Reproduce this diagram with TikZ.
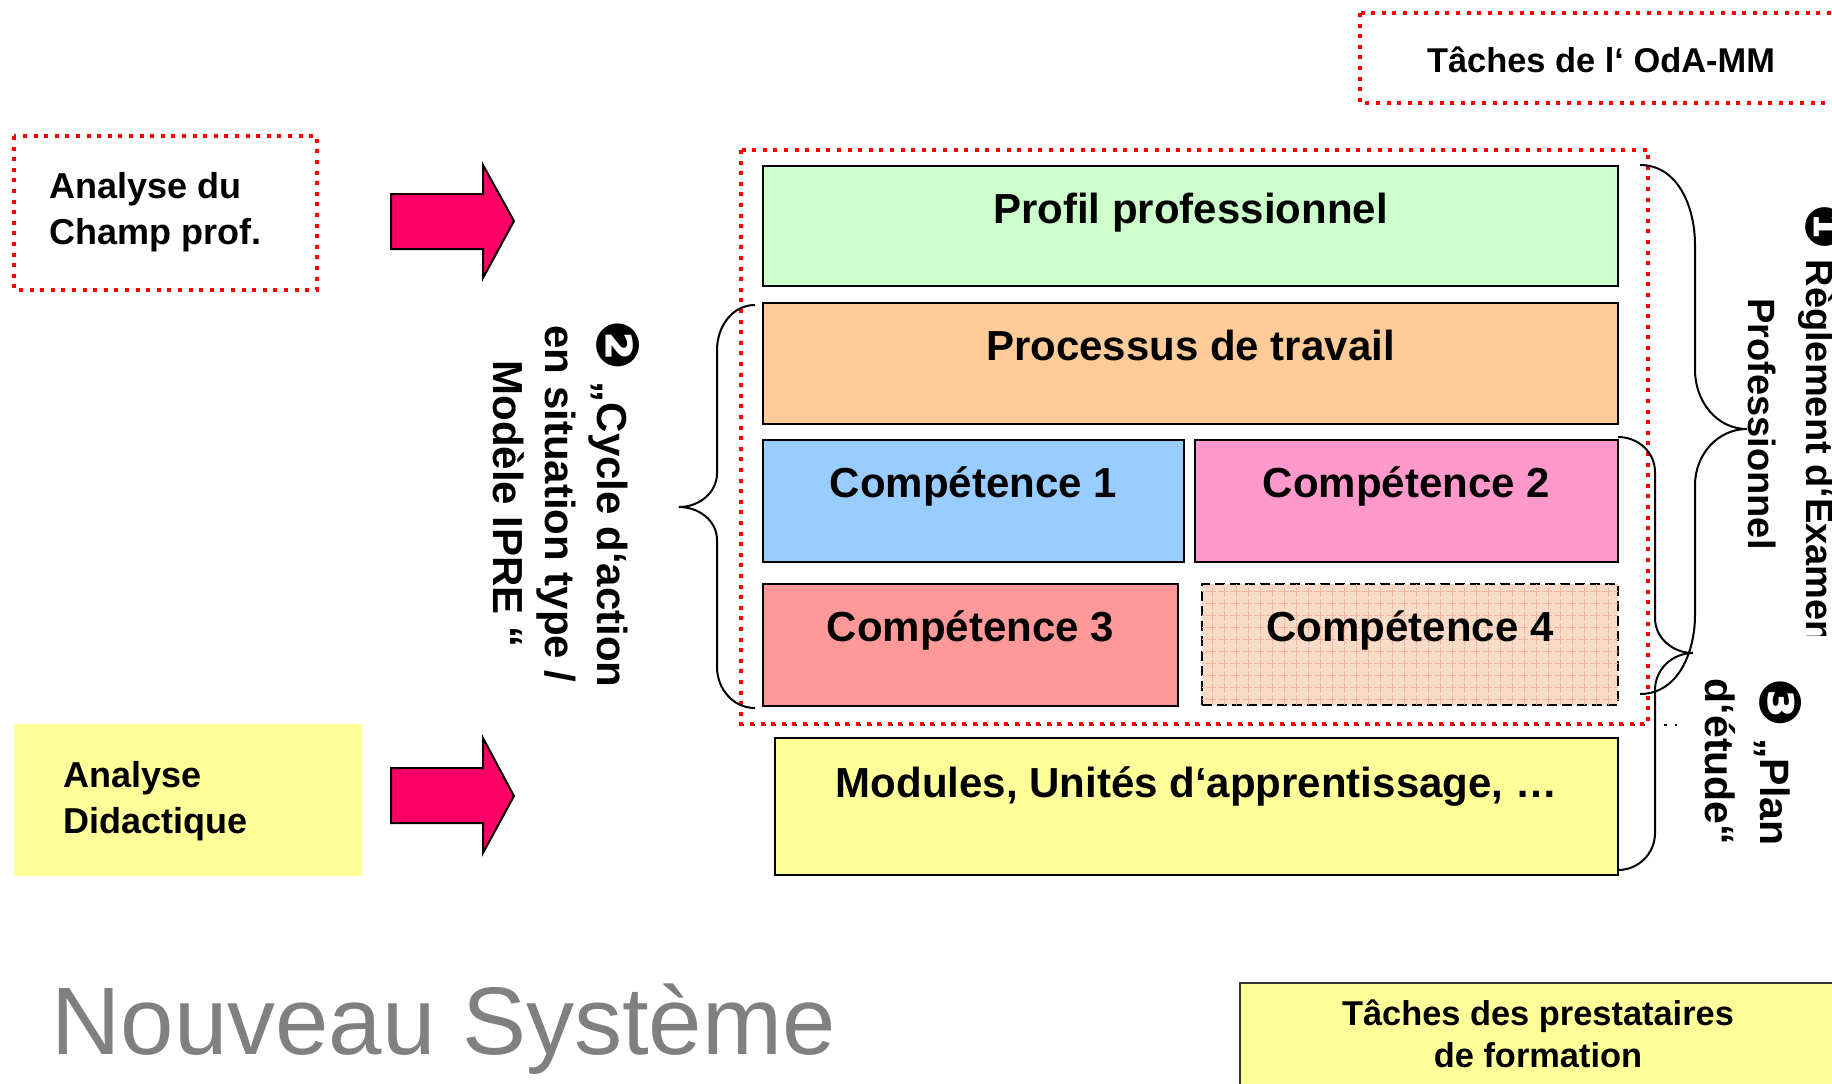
\documentclass[tikz,border=0pt]{standalone}
\usepackage{fontspec}
\setmainfont{Liberation Sans}
\newfontfamily\dingfont{DejaVu Sans}[Scale=1.4]
\usetikzlibrary{positioning,patterns.meta}

\definecolor{profilgreen}{HTML}{CCFFCC}
\definecolor{processorange}{HTML}{FFCC99}
\definecolor{compblue}{HTML}{99CCFF}
\definecolor{comppink}{HTML}{FF99CC}
\definecolor{compred}{HTML}{FF9999}
\definecolor{comppeach}{HTML}{F9DCC8}
\definecolor{hatchpeach}{HTML}{F2B49C}
\definecolor{paleyellow}{HTML}{FFFF99}
\definecolor{arrowpink}{HTML}{FF0066}
\definecolor{titlegray}{HTML}{808080}

\tikzset{
  reddots/.style={draw=red, line width=2pt, dash pattern=on 2pt off 3.3pt},
  layerbox/.style={draw=black, line width=1.25pt, inner sep=0pt},
  layertext/.style={anchor=base, font=\bfseries\fontsize{21}{25}\selectfont},
  sidetext/.style={anchor=base west, align=left, inner sep=0pt, font=\bfseries\fontsize{18}{23}\selectfont},
  bigarrow/.style={fill=arrowpink, draw=black, line width=1pt, line join=miter},
  bracket/.style={draw=black, line width=1pt}
}

\begin{document}
\begin{tikzpicture}[x=0.5pt,y=-0.5pt]
    \useasboundingbox (0,0) rectangle (1832,1083);
    \clip (0,0) rectangle (1832,1083);

    % tasks of the OdA
    \draw[reddots] (1360,13) rectangle (1850,103);
    \node[font=\bfseries\fontsize{17.2}{21}\selectfont, anchor=base] (oda) at (1601,72) {Tâches de l‘ OdA-MM};

    % left column (base = last line)
    \draw[reddots] (14,136) rectangle (317,290);
    \node[sidetext] (champ) at (49,244) {Analyse du\\Champ prof.};
    \fill[paleyellow] (14,724) rectangle (362,876);
    \node[sidetext] (didactique) at (63,833) {Analyse\\Didactique};

    \draw[bigarrow] (391,194) -- (483,194) -- (483,165) -- (514,221) -- (483,278) -- (483,249) -- (391,249) -- cycle;
    \draw[bigarrow] (391,768) -- (483,768) -- (483,738) -- (514,796) -- (483,853) -- (483,823) -- (391,823) -- cycle;

    % layers
    \node[layerbox, fill=profilgreen, minimum width=427.5pt, minimum height=60pt] (profil) at (1190.5,226) {};
    \node[layerbox, fill=processorange, minimum width=427.5pt, minimum height=60.5pt] (processus) at (1190.5,363.5) {};
    \node[layerbox, fill=compblue, minimum width=210.5pt, minimum height=61pt] (comp1) at (973.5,501) {};
    \node[layerbox, fill=comppink, minimum width=211.5pt, minimum height=61pt] (comp2) at (1406.5,501) {};
    \node[layerbox, fill=compred, minimum width=207.5pt, minimum height=61pt] (comp3) at (970.5,645) {};
    \node[layerbox, dash pattern=on 5pt off 2.5pt, fill=comppeach, minimum width=208pt, minimum height=60.5pt,
          postaction={pattern={Hatch[distance=6pt, line width=0.4pt]}, pattern color=hatchpeach}] (comp4) at (1410,644.5) {};
    \node[layerbox, fill=paleyellow, minimum width=421.5pt, minimum height=68.5pt] (modules) at (1196.5,806.5) {};

    \node[layertext] (profiltext) at ([yshift=-29.5pt]profil.north) {Profil professionnel};
    \node[layertext] (processustext) at ([yshift=-29.5pt]processus.north) {Processus de travail};
    \node[layertext] (comp1text) at ([yshift=-29.5pt]comp1.north) {Compétence 1};
    \node[layertext] (comp2text) at ([yshift=-29.5pt]comp2.north) {Compétence 2};
    \node[layertext] (comp3text) at ([yshift=-29.5pt]comp3.north) {Compétence 3};
    \node[layertext] (comp4text) at ([yshift=-29.5pt]comp4.north) {Compétence 4};
    \node[layertext] (modulestext) at ([yshift=-30.5pt]modules.north) {Modules, Unités d‘apprentissage, …};

    % OdA frame and separator
    \draw[black, line width=1.2pt, dash pattern=on 1.2pt off 4.1pt] (742,725) -- (1677,725);
    \draw[reddots] (741,150) rectangle (1648,724);

    % braces
    \draw[bracket] (755,305) to[out=180,in=90] (717,350) -- (717,473) to[out=-90,in=0] (679,507)
        to[out=0,in=90] (717,540) -- (717,667) to[out=-90,in=180] (755,708);
    \draw[bracket] (1640,165) to[out=0,in=90] (1695,245) -- (1695,370) to[out=-90,in=180] (1747,429)
        to[out=180,in=90] (1695,485) -- (1695,615) to[out=-90,in=0] (1640,694);
    \draw[bracket] (1618,437) to[out=0,in=90] (1655,472) -- (1655,618) to[out=-90,in=180] (1693,653)
        to[out=180,in=90] (1655,690) -- (1655,833) to[out=-90,in=0] (1618,870);

    % side labels
    \node[rotate=-90, align=center, font=\bfseries\fontsize{21}{26}\selectfont] (cycle) at (566,504)
        {{\dingfont ❷} „Cycle d‘action\\en situation type /\\Modèle IPRE “};
    \node[rotate=-90, align=center, font=\bfseries\fontsize{19}{29}\selectfont] (reglement) at (1796,424)
        {{\dingfont ❶} Règlement d‘Examen\\Professionnel};
    \fill[white] (1790,636) rectangle (1840,680);
    \node[rotate=-90, align=center, font=\bfseries\fontsize{20.5}{27.5}\selectfont] (plan) at (1753,762)
        {{\dingfont ❸} „Plan\\d‘étude“};

    % bottom
    \node[anchor=base west, text=titlegray, font=\fontsize{48}{56}\selectfont, inner sep=0pt] (titre) at (51,1054) {Nouveau Système};
    \draw[fill=paleyellow, draw=black!80, line width=1.25pt] (1240,983) rectangle (1850,1100);
    \node[align=center, anchor=base, font=\bfseries\fontsize{17.2}{21}\selectfont] (prestataires) at (1538,1067)
        {Tâches des prestataires\\de formation};
\end{tikzpicture}
\end{document}
